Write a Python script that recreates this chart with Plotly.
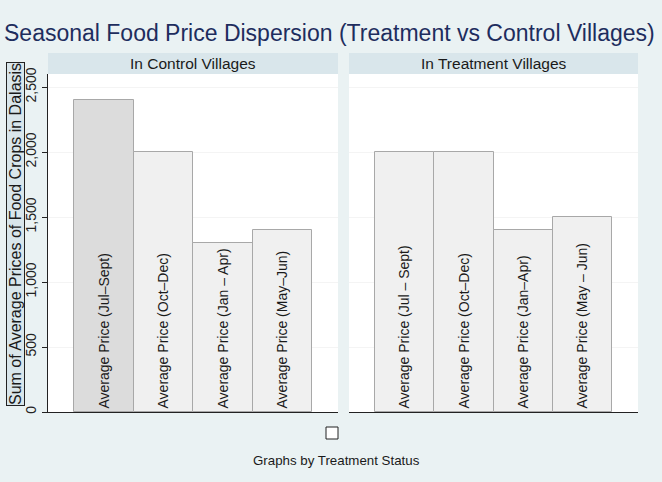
import plotly.graph_objects as go

# Datos
paneles = ["In Control Villages", "In Treatment Villages"]
etiquetas_control = ["Average Price (Jul–Sept)", "Average Price (Oct–Dec)",
                     "Average Price (Jan – Apr)", "Average Price (May–Jun)"]
etiquetas_tratamiento = ["Average Price (Jul – Sept)", "Average Price (Oct–Dec)",
                         "Average Price (Jan–Apr)", "Average Price (May – Jun)"]
valores_control = [2400, 2000, 1300, 1400]
valores_tratamiento = [2000, 2000, 1400, 1500]
posiciones = [0, 1, 2, 3]
ticks_y = [0, 500, 1000, 1500, 2000, 2500]

W, H = 662, 482
FONDO = "#EAF2F3"
STRIP = "#D9E6EB"
FUENTE = "Liberation Sans, Arial, sans-serif"


def px(x):
    return x / W


def py(y):
    return 1 - y / H


fig = go.Figure()

colores_control = ["#DCDCDC", "#F0F0F0", "#F0F0F0", "#F0F0F0"]
for i, (vals, etiq, xa, ya) in enumerate([
        (valores_control, etiquetas_control, "x", "y"),
        (valores_tratamiento, etiquetas_tratamiento, "x2", "y2")]):
    fig.add_trace(go.Bar(
        x=posiciones, y=vals, width=1,
        text=etiq, textposition="inside", insidetextanchor="start",
        textangle=-90,
        textfont=dict(size=14, color="#1a1a1a", family=FUENTE),
        marker=dict(color=colores_control if i == 0 else "#F0F0F0",
                    line=dict(color="#A8A8A8", width=1)),
        xaxis=xa, yaxis=ya, showlegend=False, hoverinfo="skip",
    ))

dom_x1 = [px(48), px(338)]
dom_x2 = [px(349), px(638)]
dom_y = [py(412), py(74)]
rango_x = [-0.5 - 26 / 59.5, 3.5 + 26 / 59.5]

eje_x = dict(range=rango_x, showticklabels=False, ticks="", showgrid=False,
             zeroline=False, showline=True, linecolor="#222222", linewidth=1,
             fixedrange=True)
eje_y = dict(range=[0, 2600], tickvals=ticks_y, tickformat=",", tickangle=-90,
             showgrid=True, gridcolor="#F4F4F4", gridwidth=1, zeroline=False,
             fixedrange=True, automargin=False)

fig.update_layout(
    width=W, height=H,
    margin=dict(l=0, r=0, t=0, b=0),
    paper_bgcolor=FONDO, plot_bgcolor="white",
    font=dict(family=FUENTE, color="#222222"),
    bargap=0,
    uniformtext=dict(minsize=14, mode="show"),
    xaxis=dict(domain=dom_x1, anchor="y", **eje_x),
    xaxis2=dict(domain=dom_x2, anchor="y2", **eje_x),
    yaxis=dict(domain=dom_y, anchor="x", showline=True, linecolor="#222222",
               linewidth=1, ticks="outside", ticklen=5, tickcolor="#222222",
               showticklabels=True, tickfont=dict(size=14, color="#222222"),
               **eje_y),
    yaxis2=dict(domain=dom_y, anchor="x2", showline=False, ticks="",
                showticklabels=False, **eje_y),
)

# Cabeceras de los paneles
for (x0, x1), nombre in zip([dom_x1, dom_x2], paneles):
    fig.add_shape(type="rect", xref="paper", yref="paper",
                  x0=x0, x1=x1, y0=py(74), y1=py(53),
                  fillcolor=STRIP, line=dict(width=0), layer="below")
    fig.add_annotation(x=(x0 + x1) / 2, y=py(63.5), xref="paper", yref="paper",
                       text=nombre, showarrow=False,
                       font=dict(size=15.5, color="#1a1a1a", family=FUENTE),
                       xanchor="center", yanchor="middle")

# Título
fig.add_annotation(x=px(329), y=py(33), xref="paper", yref="paper",
                   text="Seasonal Food Price Dispersion (Treatment vs Control Villages)",
                   showarrow=False, font=dict(size=23, color="#1E2D5E", family=FUENTE),
                   xanchor="center", yanchor="middle")

# Título del eje Y con recuadro
fig.add_annotation(x=px(15), y=py(234), xref="paper", yref="paper",
                   text="Sum of Average Prices of Food Crops in Dalasis",
                   textangle=-90, showarrow=False,
                   font=dict(size=16, color="#1a1a1a", family=FUENTE),
                   bgcolor=STRIP, bordercolor="#222222", borderwidth=1, borderpad=0,
                   xanchor="center", yanchor="middle")

# Leyenda vacía (cuadro) y nota
fig.add_shape(type="rect", xref="paper", yref="paper",
              x0=px(326), x1=px(338), y0=py(439), y1=py(427),
              fillcolor="white", line=dict(color="#222222", width=1))
fig.add_annotation(x=px(336), y=py(460), xref="paper", yref="paper",
                   text="Graphs by Treatment Status", showarrow=False,
                   font=dict(size=13.3, color="#1a1a1a", family=FUENTE),
                   xanchor="center", yanchor="middle")

fig.write_html("out.html", config={"displayModeBar": False},
               post_script="document.body.style.margin='0';")
